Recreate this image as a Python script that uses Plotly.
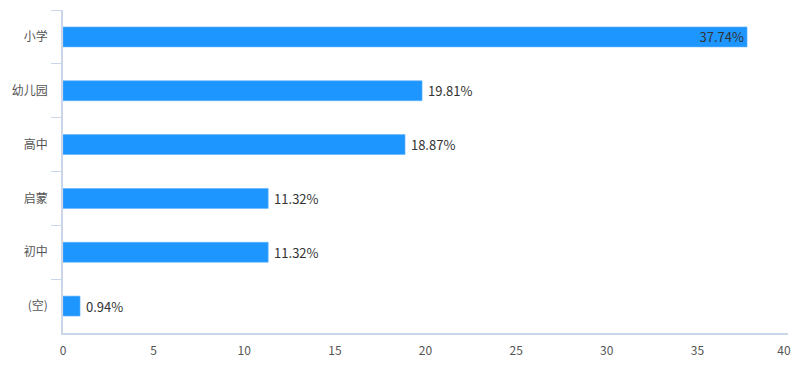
import plotly.graph_objects as go

categories = ["小学", "幼儿园", "高中", "启蒙", "初中", "(空)"]
values = [37.74, 19.81, 18.87, 11.32, 11.32, 0.94]
label_positions = ["inside", "outside", "outside", "outside", "outside", "outside"]
x_ticks = [0, 5, 10, 15, 20, 25, 30, 35, 40]

FONT = "Microsoft YaHei, Noto Sans CJK SC, sans-serif"
AXIS = "#ccd6eb"

# last tick label is kept inside the chart (padded to shift it left)
x_ticktext = [str(v) for v in x_ticks[:-1]] + [str(x_ticks[-1]) + "\u00a0\u00a0\u00a0"]

fig = go.Figure(go.Bar(
    x=values,
    y=categories,
    orientation="h",
    marker=dict(color="#1e96ff", line=dict(color="#5fb3ff", width=0.6)),
    texttemplate=" %{x:.2f}%",
    textposition=label_positions,
    insidetextanchor="end",
    constraintext="none",
    textfont=dict(family=FONT, size=13, color="#333333"),
    insidetextfont=dict(family=FONT, size=13, color="#333333"),
    outsidetextfont=dict(family=FONT, size=13, color="#333333"),
    cliponaxis=False,
    hoverinfo="skip",
))

# page body has an 8px margin, so the figure is sized/offset to compensate
fig.update_layout(
    width=792, height=366,
    margin=dict(l=55, r=12, t=2, b=41, autoexpand=False),
    paper_bgcolor="white",
    plot_bgcolor="white",
    bargap=0.63,
    showlegend=False,
    font=dict(family=FONT, size=12, color="#555555"),
)
fig.update_xaxes(
    range=[0, 40],
    tickvals=x_ticks,
    ticktext=x_ticktext,
    showgrid=False,
    zeroline=False,
    showline=True,
    linecolor=AXIS,
    linewidth=1.5,
    ticks="",
    ticklabelstandoff=6,
    automargin=False,
    tickfont=dict(family=FONT, size=12, color="#555555"),
)
fig.update_yaxes(
    categoryorder="array",
    categoryarray=categories,
    autorange="reversed",
    showgrid=False,
    zeroline=False,
    showline=True,
    linecolor=AXIS,
    linewidth=1.5,
    ticks="outside",
    tickson="boundaries",
    ticklen=10,
    tickcolor=AXIS,
    tickwidth=1,
    ticklabelstandoff=11,
    automargin=False,
    tickfont=dict(family=FONT, size=12, color="#555555"),
)

fig.write_html("out.html")
